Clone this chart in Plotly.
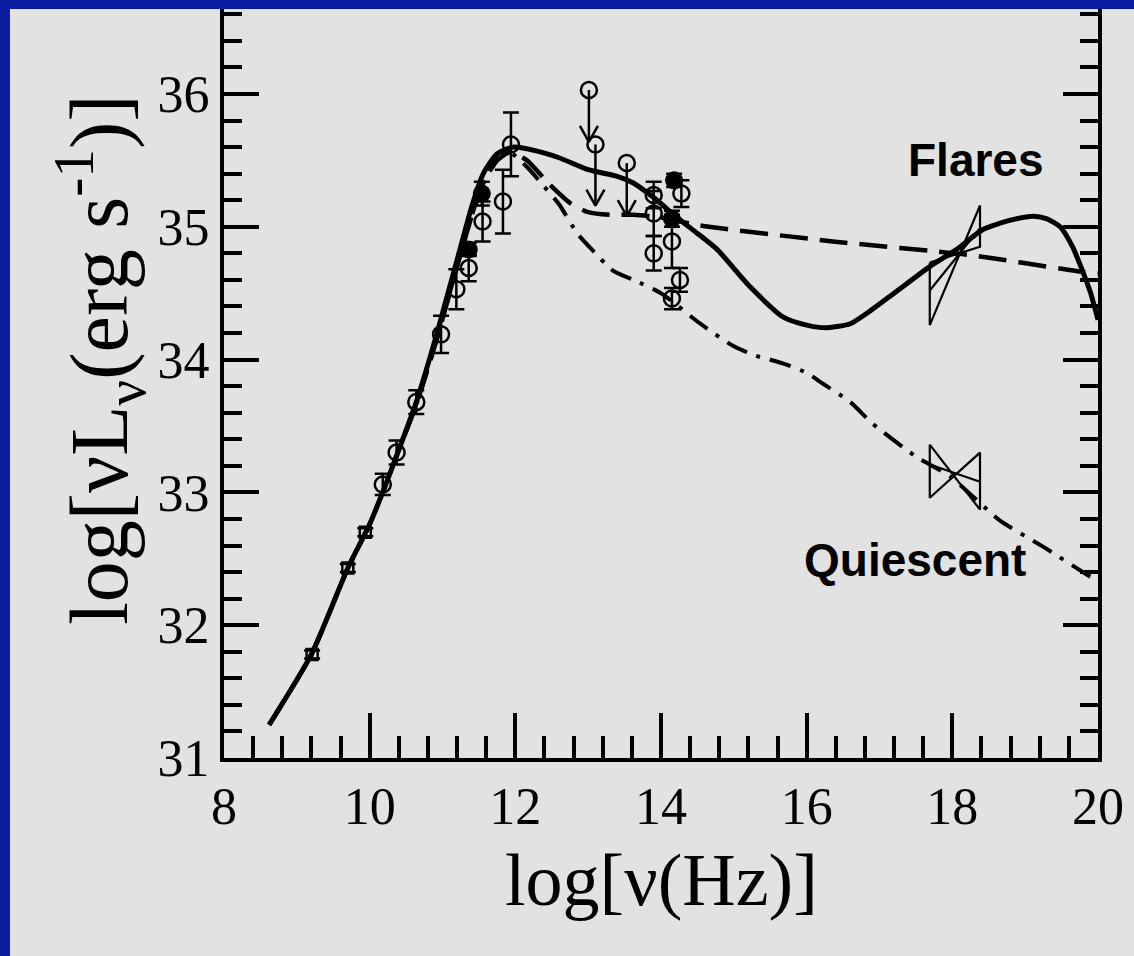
import plotly.graph_objects as go

# ---------------- model curves: log(nu) vs log(nu L_nu) ----------------
flare_a_x = [8.62, 9.2, 9.7, 10.0, 10.2, 10.4, 10.64, 10.92, 11.0, 11.2, 11.4, 11.56,
             11.75, 11.97, 12.3, 12.6, 13.0, 13.4, 13.62, 13.9, 14.22, 14.5, 14.77,
             15.22, 15.68, 16.0, 16.28, 16.6, 16.83, 17.2, 17.69, 18.06, 18.42, 18.8,
             19.11, 19.3, 19.48, 19.65, 19.8, 19.9, 20.0]
flare_a_y = [31.25, 31.78, 32.43, 32.76, 33.03, 33.32, 33.68, 34.19, 34.35, 34.75, 35.15, 35.4,
             35.55, 35.6, 35.57, 35.52, 35.43, 35.38, 35.33, 35.22, 35.07, 34.95, 34.83,
             34.55, 34.32, 34.26, 34.24, 34.27, 34.35, 34.5, 34.7, 34.83, 34.98, 35.05,
             35.08, 35.06, 35.0, 34.85, 34.65, 34.5, 34.3]

flare_b_x = [8.62, 9.2, 9.7, 10.0, 10.2, 10.4, 10.64, 10.92, 11.2, 11.4, 11.56, 11.75,
             11.92, 12.16, 12.45, 12.75, 13.0, 13.3, 13.62, 14.0, 14.54, 16.36, 18.2, 19.8, 20.0]
flare_b_y = [31.25, 31.78, 32.43, 32.76, 33.03, 33.32, 33.66, 34.15, 34.7, 35.08, 35.33, 35.5,
             35.56, 35.5, 35.33, 35.18, 35.11, 35.09, 35.09, 35.07, 35.01, 34.89, 34.79, 34.66, 34.65]

quiet_x = [8.62, 9.2, 9.7, 10.0, 10.2, 10.4, 10.64, 10.92, 11.2, 11.4, 11.56, 11.75,
           11.92, 12.16, 12.4, 12.6, 12.85, 13.05, 13.34, 13.62, 14.0, 14.54, 15.0, 15.3,
           15.68, 16.0, 16.22, 16.6, 16.9, 17.5, 17.97, 18.65, 19.25, 19.85, 20.0]
quiet_y = [31.25, 31.78, 32.43, 32.76, 33.03, 33.32, 33.66, 34.15, 34.7, 35.08, 35.33, 35.5,
           35.56, 35.45, 35.3, 35.17, 34.95, 34.83, 34.67, 34.6, 34.5, 34.27, 34.1, 34.03,
           33.97, 33.9, 33.82, 33.68, 33.52, 33.27, 33.12, 32.79, 32.59, 32.38, 32.33]

# ---------------- observations ----------------
radio_x = [9.21, 9.70, 9.94]
radio_y = [31.78, 32.43, 32.70]
radio_err = [0.03, 0.03, 0.03]

open_x = [10.18, 10.37, 10.64, 10.98, 11.19, 11.36, 11.55, 11.83, 11.94,
          13.9, 13.9, 13.9, 14.15, 14.28, 14.26, 14.15]
open_y = [33.06, 33.30, 33.68, 34.19, 34.53, 34.69, 35.04, 35.19, 35.62,
          35.24, 35.10, 34.80, 34.89, 35.25, 34.60, 34.46]
open_err = [0.08, 0.09, 0.09, 0.14, 0.15, 0.10, 0.15, 0.24, 0.24,
            0.10, 0.17, 0.13, 0.20, 0.10, 0.09, 0.08]

filled_x = [11.36, 11.54, 14.18, 14.15]
filled_y = [34.83, 35.25, 35.35, 35.06]
filled_err = [0.05, 0.09, 0.05, 0.06]

# upper limits: marker position and arrow tip
ul_x = [13.01, 13.10, 13.53]
ul_y = [36.03, 35.62, 35.48]
ul_tip = [35.64, 35.16, 35.08]

# X-ray power-law bow ties: x edges, upper/lower/central values at each edge
bt_x = [17.69, 18.38]
bt_flare_hi = [34.73, 35.16]
bt_flare_lo = [34.26, 34.85]
bt_flare_mid = [34.52, 34.99]
bt_quiet_hi = [33.36, 33.30]
bt_quiet_lo = [32.96, 32.87]
bt_quiet_mid = [33.21, 33.08]

x_ticks = [8, 10, 12, 14, 16, 18, 20]
y_ticks = [31, 32, 33, 34, 35, 36]

# ---------------- layout geometry ----------------
W, H = 1134, 956
ML, MR, MT, MB = 224, 36, 9, 198
X_RANGE = [8, 20]
Y_RANGE = [31, 31 + (H - MT - MB) / 132.8]
plot_w = W - ML - MR
plot_h = H - MT - MB
px_x = plot_w / (X_RANGE[1] - X_RANGE[0])
px_y = plot_h / (Y_RANGE[1] - Y_RANGE[0])

BG = "#e2e2e2"
FRAME = "#0a1b9f"
SERIF = "Liberation Serif"
SANS = "Liberation Sans"

fig = go.Figure()

# model curves
fig.add_trace(go.Scatter(x=flare_a_x, y=flare_a_y, mode="lines",
                         line=dict(color="black", width=5, shape="spline", smoothing=0.6)))
fig.add_trace(go.Scatter(x=flare_b_x, y=flare_b_y, mode="lines",
                         line=dict(color="black", width=4.5, dash="28px,12px",
                                   shape="spline", smoothing=0.6)))
fig.add_trace(go.Scatter(x=quiet_x, y=quiet_y, mode="lines",
                         line=dict(color="black", width=4, dash="22px,10px,4px,10px",
                                   shape="spline", smoothing=0.6)))

err_style = dict(type="data", visible=True, color="black", thickness=2.5, width=8)

fig.add_trace(go.Scatter(x=radio_x, y=radio_y, mode="markers",
                         marker=dict(symbol="square-open", size=11, color="black",
                                     line=dict(width=2.5, color="black")),
                         error_y=dict(array=radio_err, **err_style)))
fig.add_trace(go.Scatter(x=open_x, y=open_y, mode="markers",
                         marker=dict(symbol="circle-open", size=16, color="black",
                                     line=dict(width=2.5, color="black")),
                         error_y=dict(array=open_err, **err_style)))
fig.add_trace(go.Scatter(x=filled_x, y=filled_y, mode="markers",
                         marker=dict(symbol="circle", size=18, color="black"),
                         error_y=dict(array=filled_err, **err_style)))

# upper limits with open arrow heads
head_dx = 9 / px_x
head_dy = 16 / px_y
for x, y, tip in zip(ul_x, ul_y, ul_tip):
    fig.add_trace(go.Scatter(
        x=[x, x, None, x - head_dx, x, x + head_dx],
        y=[y, tip, None, tip + head_dy, tip, tip + head_dy],
        mode="lines", line=dict(color="black", width=2.5)))
fig.add_trace(go.Scatter(x=ul_x, y=ul_y, mode="markers",
                         marker=dict(symbol="circle-open", size=16, color="black",
                                     line=dict(width=2.5, color="black"))))

# bow ties
for hi, lo, mid in [(bt_flare_hi, bt_flare_lo, bt_flare_mid),
                    (bt_quiet_hi, bt_quiet_lo, bt_quiet_mid)]:
    xs = [bt_x[0], bt_x[0], bt_x[1], bt_x[1], bt_x[0], None, bt_x[0], bt_x[1]]
    ys = [hi[0], lo[0], hi[1], lo[1], hi[0], None, mid[0], mid[1]]
    fig.add_trace(go.Scatter(x=xs, y=ys, mode="lines",
                             line=dict(color="black", width=2.2)))

axis_common = dict(showgrid=False, zeroline=False, showline=True, linecolor="black",
                   linewidth=4, ticks="inside", tickcolor="black",
                   tickfont=dict(family=SERIF, size=52, color="black"))

fig.update_xaxes(range=X_RANGE, tickmode="array", tickvals=x_ticks,
                 ticktext=[str(v) for v in x_ticks], ticklen=45, tickwidth=3.5,
                 mirror=False,
                 minor=dict(ticks="inside", dtick=0.4, tick0=8, ticklen=22,
                            tickwidth=3.5, tickcolor="black"),
                 **axis_common)
fig.update_yaxes(range=Y_RANGE, tickmode="array", tickvals=y_ticks,
                 ticktext=[str(v) for v in y_ticks], ticklen=35, tickwidth=3.5,
                 mirror="ticks",
                 minor=dict(ticks="inside", dtick=0.2, tick0=31, ticklen=18,
                            tickwidth=3.5, tickcolor="black"),
                 **axis_common)

annotations = [
    dict(text="log[ν(Hz)]", xref="paper", yref="paper", x=0.5,
         y=(-(880 - (H - MB))) / plot_h, xanchor="center", yanchor="middle",
         showarrow=False, font=dict(family=SERIF, size=74, color="black")),
    dict(text="log[νL<sub>ν</sub>(erg s<sup>-1</sup>)]", xref="paper", yref="paper",
         x=(100 - ML) / plot_w, y=((H - MB) - 360) / plot_h, textangle=-90,
         xanchor="center", yanchor="middle", showarrow=False,
         font=dict(family=SERIF, size=82, color="black")),
    dict(text="<b>Flares</b>", x=18.33, y=35.50, xref="x", yref="y",
         showarrow=False, xanchor="center", yanchor="middle",
         font=dict(family=SANS, size=46, color="black")),
    dict(text="<b>Quiescent</b>", x=17.49, y=32.49, xref="x", yref="y",
         showarrow=False, xanchor="center", yanchor="middle",
         font=dict(family=SANS, size=46, color="black")),
]

# dark blue strips along the top and left edges of the page
x_left, x_right = -ML / plot_w, 1 + MR / plot_w
y_bot, y_top = -MB / plot_h, 1 + MT / plot_h
shapes = [
    dict(type="rect", xref="paper", yref="paper", layer="above",
         x0=x_left, x1=x_right, y0=1, y1=y_top,
         fillcolor=FRAME, line=dict(width=0)),
    dict(type="rect", xref="paper", yref="paper", layer="above",
         x0=x_left, x1=-(ML - 10) / plot_w, y0=y_bot, y1=y_top,
         fillcolor=FRAME, line=dict(width=0)),
]

fig.update_layout(width=W, height=H, margin=dict(l=ML, r=MR, t=MT, b=MB, pad=0),
                  paper_bgcolor=BG, plot_bgcolor=BG, showlegend=False,
                  annotations=annotations, shapes=shapes)

fig.write_html("out.html")
